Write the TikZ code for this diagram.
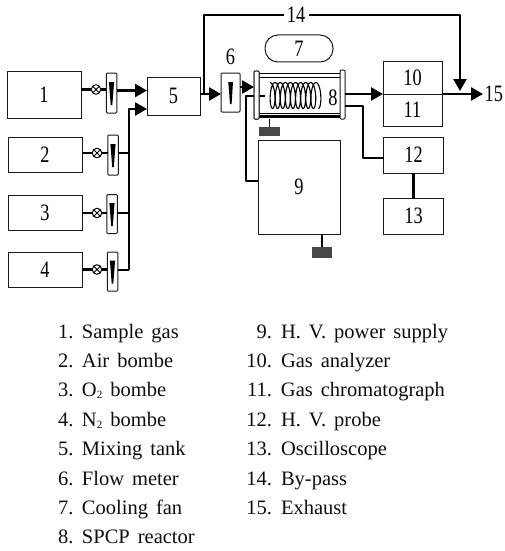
\documentclass[tikz,border=0pt]{standalone}
\usepackage{fontspec}
\setmainfont{Liberation Serif}
\newfontfamily\narrowdigits[FakeStretch=0.78]{Liberation Serif}
\usetikzlibrary{arrows.meta}
\newcommand{\lgA}[2]{\makebox[13pt][l]{#1}\hspace{11pt}\spaceskip=8pt\relax #2}
\newcommand{\lgB}[2]{\makebox[22pt][r]{#1}\hspace{9pt}\spaceskip=8pt\relax #2}
\newcommand{\subtwo}{\raisebox{-2pt}{\fontsize{11}{11}\selectfont 2}}
\tikzset{
  bx/.style={draw=black!90,line width=1pt,rectangle,inner sep=0pt,outer sep=0pt,fill=white,font=\narrowdigits\fontsize{23.5}{26}\selectfont},
  fm/.style={draw=black!90,line width=1pt,rectangle,rounded corners=1pt,inner sep=0pt,outer sep=0pt,fill=white},
  vlv/.style={draw=black,line width=1pt,circle,minimum size=9.5pt,inner sep=0pt,outer sep=0pt,fill=white,
    path picture={\draw[line width=0.9pt] (path picture bounding box.north west)--(path picture bounding box.south east)
      (path picture bounding box.north east)--(path picture bounding box.south west);}},
  pipe/.style={line width=2.6pt,line join=round},
  flow/.style={pipe,-{Triangle[length=12pt,width=13pt]}},
  wire/.style={line width=1.3pt},
  gnd/.style={rectangle,fill=black!72,inner sep=0pt,outer sep=0pt},
  lbl/.style={inner sep=0pt,outer sep=0pt,font=\narrowdigits\fontsize{23.5}{26}\selectfont},
  lg/.style={inner sep=0pt,outer sep=0pt,anchor=base west,font=\fontsize{20.5}{24}\selectfont,text=black!95},
}
\newcommand{\pointer}[1]{\fill[black] ([shift={(-2.6,-11)}]#1.center) -- ([shift={(2.6,-11)}]#1.center) -- ([shift={(0.8,12)}]#1.center) -- ([shift={(-0.8,12)}]#1.center) -- cycle;}
\begin{document}
\begin{tikzpicture}[x=1pt,y=-1pt]
\useasboundingbox (0,0) rectangle (504,551);
% source boxes
\node[bx,minimum width=74,minimum height=47] (b1) at (44,94.5) {1};
\node[bx,minimum width=74,minimum height=35] (b2) at (45,154.5) {2};
\node[bx,minimum width=74,minimum height=35] (b3) at (45,212.5) {3};
\node[bx,minimum width=74,minimum height=35] (b4) at (45,269.5) {4};
% flow meters
\node[fm,minimum width=10.5,minimum height=40] (f1) at (111.5,93) {};
\node[fm,minimum width=10.5,minimum height=40] (f2) at (113,155) {};
\node[fm,minimum width=10.5,minimum height=39] (f3) at (112,214) {};
\node[fm,minimum width=10.5,minimum height=39] (f4) at (112.5,271.5) {};
\node[fm,minimum width=19,minimum height=39] (f6) at (230.5,92.5) {};
\pointer{f1}\pointer{f2}\pointer{f3}\pointer{f4}
\fill[black] (228.3,82) -- (233,82) -- (231.6,104) -- (230,104) -- cycle;
% valves
\coordinate (a1) at (96,89.5);
\coordinate (a2) at (97,153);
\coordinate (a3) at (97,213);
\coordinate (a4) at (97,269.5);
\foreach \i in {1,2,3,4}{
  \draw[pipe] (b\i.east |- a\i) -- (f\i.west |- a\i);
  \node[vlv] (v\i) at (a\i) {};
}
% mixing tank
\node[bx,minimum width=53,minimum height=38] (b5) at (173.5,96) {5};
\coordinate (bus4) at (129,270);
\coordinate (bus2) at (129,153);
\coordinate (bus3) at (129,213);
\coordinate (busTop) at (129,109);
\draw[flow] (f1.east |- 0,90.5) -- (b5.west |- 0,90.5);
\draw[flow] (bus4) -- (busTop) -- (b5.west |- busTop);
\draw[pipe] (f2.east |- bus2) -- (bus2);
\draw[pipe] (f3.east |- bus3) -- (bus3);
\draw[pipe] (f4.east |- bus4) -- (bus4);
% bypass
\coordinate (by0) at (204,94);
\coordinate (by1) at (204,15);
\coordinate (by2) at (460,15);
\coordinate (byEnd) at (460,91);
\coordinate (by14a) at (284,15);
\coordinate (by14b) at (309,15);
\draw[flow] (b5.east |- by0) -- (f6.west |- by0);
\node[lbl] (n14) at (296,15) {14};
\node[lbl] (n6) at (230.5,57) {6};
\draw[pipe] (by0) -- (by1) -- (by14a);
\draw[flow] (by14b) -- (by2) -- (byEnd);
% fan
\node[bx,rounded corners=13pt,minimum width=68,minimum height=27] (b7) at (299,48.5) {7};
% reactor
\node[fm,minimum width=5,minimum height=48] (fl) at (256.5,95) {};
\node[fm,minimum width=5,minimum height=49] (fr) at (342.5,94.5) {};
\draw[line width=1.7pt] (fl.east |- 0,73.5) -- (fr.west |- 0,73.5);
\draw[line width=0.8pt] (fl.east |- 0,77) -- (fr.west |- 0,77);
\draw[line width=2.4pt] (fl.east |- 0,116.5) -- (fr.west |- 0,116.5);
\draw[line width=0.8pt] (fl.east |- 0,113.5) -- (fr.west |- 0,113.5);
\draw[line width=1.1pt,smooth,samples=260,domain=0:9.5*360,variable=\t]
  plot ({270+\t/360*5.1+3.6*sin(\t)},{95.5-13*cos(\t)});
\coordinate (coilL) at (265,96);
\node[lbl] (n8) at (333,98) {8};
\draw[flow] (f6.east |- 0,87) -- (fl.west |- 0,87);
% H.V. supply
\node[bx,minimum width=82,minimum height=94] (b9) at (299,187) {9};
\coordinate (wa) at (246,96);
\coordinate (wb) at (246,181);
\draw[pipe] (coilL) -- (wa) -- (wb) -- (b9.west |- wb);
\node[fm,minimum width=5,minimum height=48] at (256.5,95) {};
\node[gnd,minimum width=21,minimum height=9] (g1) at (269.5,131.5) {};
\draw[line width=0.9pt] (g1.north) -- (g1.north |- fl.south);
\node[gnd,minimum width=20,minimum height=11] (g2) at (322,252.5) {};
\draw[wire] (g2.north) -- (g2.north |- b9.south);
% analysers
\node[bx,minimum width=59,minimum height=32] (b10) at (412.5,78) {10};
\node[bx,minimum width=59,minimum height=32] (b11) at (412.5,110) {11};
\node[bx,minimum width=60,minimum height=36] (b12) at (413.5,155) {12};
\node[bx,minimum width=60,minimum height=36] (b13) at (413.5,216) {13};
\node[lbl,anchor=east] (n15) at (503,93.5) {15};
\coordinate (x15) at (483,94);
\draw[flow] (fr.east |- 0,94) -- (b10.south west);
\draw[flow] (b10.south east) -- (x15);
\coordinate (pa) at (363,106);
\coordinate (pb) at (363,158);
\draw[pipe] (fr.east |- pa) -- (pa) -- (pb) -- (b12.west |- pb);
\draw[pipe] (b12.south) -- (b13.north);
% legend
\node[lg] (l1) at (58,338) {\lgA{1.}{Sample gas}};
\node[lg] (l2) at (58,367.4) {\lgA{2.}{Air bombe}};
\node[lg] (l3) at (58,396.8) {\lgA{3.}{O\subtwo\ bombe}};
\node[lg] (l4) at (58,426.2) {\lgA{4.}{N\subtwo\ bombe}};
\node[lg] (l5) at (58,455.6) {\lgA{5.}{Mixing tank}};
\node[lg] (l6) at (58,485) {\lgA{6.}{Flow meter}};
\node[lg] (l7) at (58,514.4) {\lgA{7.}{Cooling fan}};
\node[lg] (l8) at (58,543.8) {\lgA{8.}{SPCP reactor}};
\node[lg] (l9) at (250,338) {\lgB{9.}{H. V. power supply}};
\node[lg] (l10) at (250,367.4) {\lgB{10.}{Gas analyzer}};
\node[lg] (l11) at (250,396.8) {\lgB{11.}{Gas chromatograph}};
\node[lg] (l12) at (250,426.2) {\lgB{12.}{H. V. probe}};
\node[lg] (l13) at (250,455.6) {\lgB{13.}{Oscilloscope}};
\node[lg] (l14) at (250,485) {\lgB{14.}{By-pass}};
\node[lg] (l15) at (250,514.4) {\lgB{15.}{Exhaust}};
\end{tikzpicture}
\end{document}
